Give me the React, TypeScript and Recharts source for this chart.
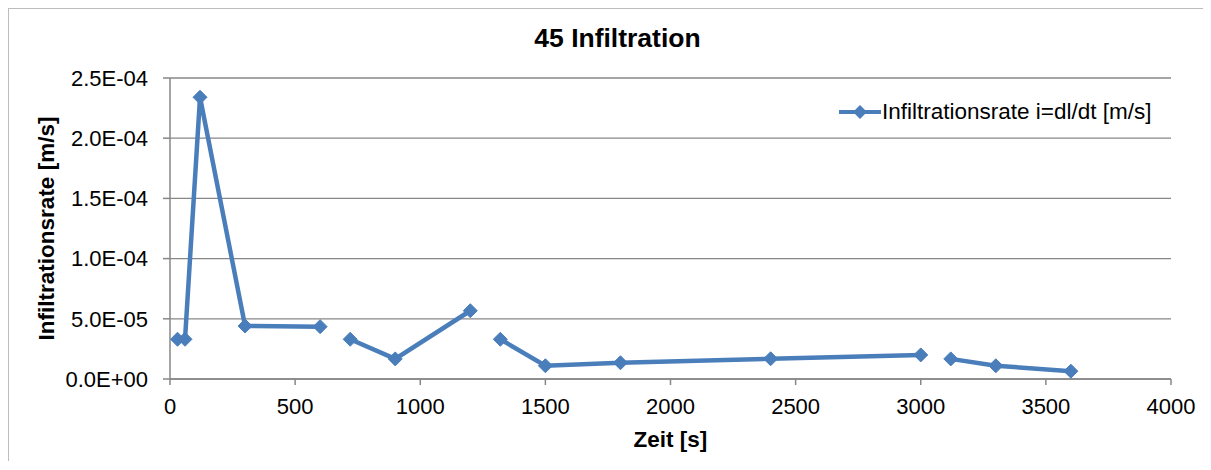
import React from "react";
import { LineChart, Line, XAxis, YAxis, CartesianGrid } from "recharts";

// Zeit [s] und Infiltrationsrate [m/s]
const zeit = [30, 60, 120, 300, 600, 720, 900, 1200, 1320, 1500, 1800, 2400, 3000, 3120, 3300, 3600];
const rate = [
  3.3e-5, 3.3e-5, 2.34e-4, 4.4e-5, 4.35e-5, 3.3e-5, 1.67e-5, 5.67e-5, 3.3e-5, 1.1e-5, 1.35e-5,
  1.68e-5, 2.0e-5, 1.67e-5, 1.1e-5, 0.65e-5,
];
// index where each connected segment starts (line is broken between them)
const segmentStarts = [0, 5, 8, 13];

const xTicks = [0, 500, 1000, 1500, 2000, 2500, 3000, 3500, 4000];
const yTicks = [0, 5e-5, 1e-4, 1.5e-4, 2e-4, 2.5e-4];

const TITLE = "45 Infiltration";
const SERIES_NAME = "Infiltrationsrate i=dl/dt [m/s]";
const X_LABEL = "Zeit [s]";
const Y_LABEL = "Infiltrationsrate [m/s]";

const FONT = '"Liberation Sans", Arial, sans-serif';
const BLUE = "#4a7ebb";
const GRID = "#878787";

const segments = segmentStarts.map((start, i) => {
  const end = i + 1 < segmentStarts.length ? segmentStarts[i + 1] : zeit.length;
  const rows = [];
  for (let k = start; k < end; k++) rows.push({ t: zeit[k], rate: rate[k] });
  return rows;
});

function formatSci(v: number): string {
  const [m, e] = v.toExponential(1).split("e");
  const sign = e.startsWith("-") ? "-" : "+";
  const digits = e.replace(/[+-]/, "").padStart(2, "0");
  return `${m}E${sign}${digits}`;
}

function Diamond(props: any) {
  const { cx, cy } = props;
  if (cx == null || cy == null) return null;
  const r = 7;
  return (
    <polygon
      points={`${cx},${cy - r} ${cx + r},${cy} ${cx},${cy + r} ${cx - r},${cy}`}
      fill={BLUE}
      stroke={BLUE}
      strokeWidth={1}
    />
  );
}

function LegendBox() {
  return (
    <div
      style={{
        position: "absolute",
        left: 830,
        top: 90,
        display: "flex",
        alignItems: "center",
        fontFamily: FONT,
        fontSize: 22.5,
        color: "#000",
        lineHeight: "26px",
        whiteSpace: "nowrap",
        zIndex: 2,
      }}
    >
      <svg width={42} height={20} style={{ marginRight: 1 }}>
        <line x1={0} y1={10} x2={42} y2={10} stroke={BLUE} strokeWidth={4} />
        <polygon points="21,3 28,10 21,17 14,10" fill={BLUE} />
      </svg>
      <span>{SERIES_NAME}</span>
    </div>
  );
}

export default function App() {
  return (
    <div
      style={{
        position: "relative",
        width: 1195,
        height: 452,
        borderTop: "1px solid #bdbdbd",
        borderLeft: "1px solid #bdbdbd",
        borderRight: "1px solid #bdbdbd",
        background: "#fff",
      }}
    >
      <div
        style={{
          position: "absolute",
          left: 11,
          top: 14,
          width: 1195,
          textAlign: "center",
          fontFamily: FONT,
          fontWeight: "bold",
          fontSize: 26.5,
          lineHeight: "30px",
          color: "#000",
          zIndex: 2,
        }}
      >
        {TITLE}
      </div>
      <LegendBox />
      <LineChart
        width={1195}
        height={452}
        margin={{ top: 69, right: 33, bottom: 0, left: 0 }}
        style={{ fontFamily: FONT }}
      >
        <CartesianGrid horizontal vertical={false} stroke={GRID} strokeWidth={1.3} />
        <XAxis
          type="number"
          dataKey="t"
          domain={[0, 4000]}
          ticks={xTicks}
          allowDataOverflow
          height={82}
          stroke={GRID}
          strokeWidth={1.5}
          tickSize={6}
          tickMargin={13}
          tick={{ fill: "#000", fontSize: 22, fontFamily: FONT }}
          label={(p: any) => {
            const vb = p.viewBox;
            return (
              <text
                x={vb.x + vb.width / 2}
                y={vb.y + 60}
                textAnchor="middle"
                dominantBaseline="central"
                fontFamily={FONT}
                fontSize={22.5}
                fontWeight="bold"
                fill="#000"
              >
                {X_LABEL}
              </text>
            );
          }}
        />
        <YAxis
          type="number"
          domain={[0, 2.5e-4]}
          ticks={yTicks}
          allowDataOverflow
          width={161}
          stroke={GRID}
          strokeWidth={1.5}
          tickSize={7}
          tickMargin={15}
          tickFormatter={formatSci}
          tick={{ fill: "#000", fontSize: 22, fontFamily: FONT }}
          label={(p: any) => {
            const vb = p.viewBox;
            const cx = vb.x + 37;
            const cy = vb.y + vb.height / 2;
            return (
              <text
                x={cx}
                y={cy}
                transform={`rotate(-90 ${cx} ${cy})`}
                textAnchor="middle"
                dominantBaseline="central"
                fontFamily={FONT}
                fontSize={22.5}
                fontWeight="bold"
                fill="#000"
              >
                {Y_LABEL}
              </text>
            );
          }}
        />
        {segments.map((seg, i) => (
          <Line
            key={i}
            data={seg}
            dataKey="rate"
            name={SERIES_NAME}
            type="linear"
            stroke={BLUE}
            strokeWidth={4.5}
            dot={<Diamond />}
            activeDot={false}
            isAnimationActive={false}
          />
        ))}
      </LineChart>
    </div>
  );
}
